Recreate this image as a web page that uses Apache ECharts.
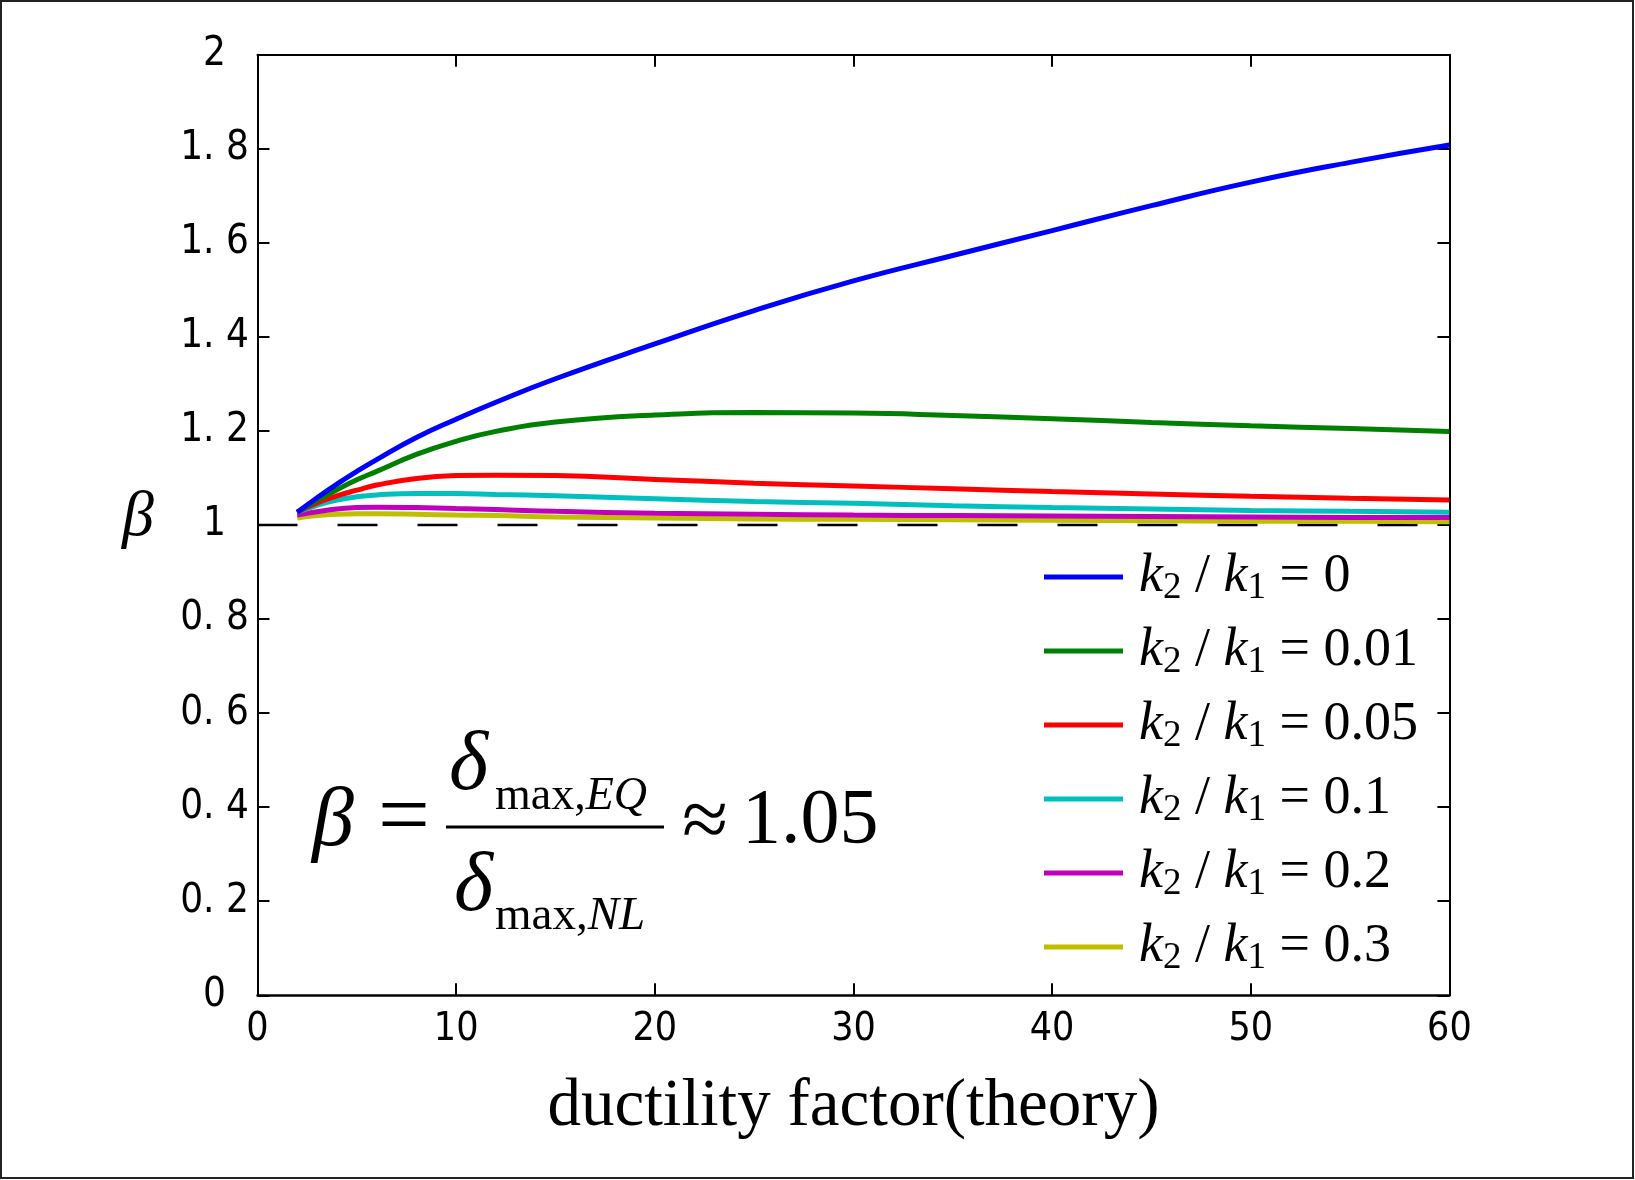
<!DOCTYPE html>
<html>
<head>
<meta charset="utf-8">
<script src="https://cdn.jsdelivr.net/npm/echarts@6/dist/echarts.min.js"></script>
<style>
  html, body { margin: 0; padding: 0; background: #fff; }
  #main { width: 1635px; height: 1180px; }
</style>
</head>
<body>
<div id="main"></div>
<script>
// ductility factor (theory)
var ductility = [2, 3, 4, 5, 6, 8, 10, 12, 15, 20, 25, 30, 35, 40, 45, 50, 55, 60];

// beta for each k2/k1
var ratioLabels = ['0', '0.01', '0.05', '0.1', '0.2', '0.3'];
var beta0    = [1.027, 1.058, 1.087, 1.114, 1.139, 1.186, 1.225, 1.261, 1.311, 1.385, 1.456, 1.519, 1.573, 1.626, 1.679, 1.729, 1.771, 1.808];
var beta001  = [1.027, 1.052, 1.075, 1.096, 1.114, 1.150, 1.178, 1.199, 1.219, 1.234, 1.239, 1.238, 1.233, 1.226, 1.218, 1.211, 1.205, 1.199];
var beta005  = [1.027, 1.047, 1.062, 1.074, 1.085, 1.099, 1.105, 1.106, 1.105, 1.097, 1.089, 1.083, 1.077, 1.071, 1.066, 1.061, 1.057, 1.053];
var beta01   = [1.027, 1.042, 1.053, 1.060, 1.064, 1.067, 1.067, 1.065, 1.062, 1.056, 1.050, 1.046, 1.041, 1.037, 1.034, 1.031, 1.029, 1.027];
var beta02   = [1.021, 1.028, 1.034, 1.037, 1.038, 1.037, 1.035, 1.033, 1.029, 1.025, 1.023, 1.021, 1.020, 1.019, 1.018, 1.017, 1.016, 1.016];
var beta03   = [1.015, 1.020, 1.023, 1.024, 1.024, 1.023, 1.021, 1.020, 1.017, 1.015, 1.013, 1.012, 1.011, 1.010, 1.009, 1.008, 1.008, 1.007];
var betaSets = [beta0, beta001, beta005, beta01, beta02, beta03];
var colors = ['#0000ff', '#008000', '#ff0000', '#00bfbf', '#bf00bf', '#bfbf00'];

var xTicks = [0, 60, 10];   // min, max, interval
var yTicks = [0, 2, 0.2];

var tickFont = '"Liberation Sans Narrow", "DejaVu Sans Condensed", sans-serif';
var serif = '"Liberation Serif", "DejaVu Serif", serif';

var myChart = echarts.init(document.getElementById('main'));

var series = [{
    name: 'ref',
    type: 'line',
    data: [[xTicks[0], 1], [xTicks[1], 1]],
    showSymbol: false,
    silent: true,
    z: 1,
    lineStyle: { color: '#000', width: 2.5, type: [40, 40] }
}];
betaSets.forEach(function (arr, i) {
    series.push({
        name: ratioLabels[i],
        type: 'line',
        smooth: 0.5,
        showSymbol: false,
        z: 2 + (6 - i),
        data: ductility.map(function (x, j) { return [x, arr[j]]; }),
        lineStyle: { color: colors[i], width: 5 },
        itemStyle: { color: colors[i] }
    });
});

function sideAxis(pos, t) {
    return {
        type: 'value', position: pos, min: t[0], max: t[1], interval: t[2],
        axisLine: { show: true, onZero: false, lineStyle: { color: '#000', width: 2 } },
        axisTick: { show: true, inside: true, length: 12, lineStyle: { color: '#000', width: 2 } },
        axisLabel: { show: false },
        splitLine: { show: false }
    };
}

var option = {
    backgroundColor: '#fff',
    animation: false,
    grid: { left: 257.5, right: 185.6, top: 54.7, bottom: 184.7 },
    xAxis: [{
        type: 'value', position: 'bottom', min: xTicks[0], max: xTicks[1], interval: xTicks[2],
        name: 'ductility factor(theory)',
        nameLocation: 'middle',
        nameGap: 79,
        nameTextStyle: { fontFamily: serif, fontSize: 67, color: '#000' },
        axisLine: { show: true, onZero: false, lineStyle: { color: '#000', width: 2.5 } },
        axisTick: { show: true, inside: true, length: 12, lineStyle: { color: '#000', width: 2 } },
        axisLabel: { fontFamily: tickFont, fontSize: 39, color: '#000', margin: 15 },
        splitLine: { show: false }
    }, sideAxis('top', xTicks)],
    yAxis: [{
        type: 'value', position: 'left', min: yTicks[0], max: yTicks[1], interval: yTicks[2],
        axisLine: { show: true, onZero: false, lineStyle: { color: '#000', width: 2 } },
        axisTick: { show: true, inside: true, length: 12, lineStyle: { color: '#000', width: 2 } },
        axisLabel: {
            fontFamily: tickFont, fontSize: 40, color: '#000', margin: 43, align: 'center',
            formatter: function (v) {
                var s = v.toFixed(1);
                if (s.slice(-2) === '.0') return s.slice(0, -2);
                return s.replace('.', '. ');
            }
        },
        splitLine: { show: false }
    }, sideAxis('right', yTicks)],
    legend: {
        data: ratioLabels,
        orient: 'vertical',
        left: 1039,
        top: 545,
        itemWidth: 79,
        itemHeight: 5,
        itemGap: 17,
        icon: 'rect',
        selectedMode: false,
        formatter: function (name) {
            return '{k|k}{s|2}{t| / }{k2|k}{s|1}{t| = ' + name + '}';
        },
        textStyle: {
            color: '#000',
            rich: {
                k: { fontFamily: serif, fontStyle: 'italic', fontSize: 54, lineHeight: 60, padding: [0, 0, 0, 11], color: '#000' },
                k2: { fontFamily: serif, fontStyle: 'italic', fontSize: 54, lineHeight: 60, color: '#000' },
                s: { fontFamily: serif, fontSize: 37, lineHeight: 10, verticalAlign: 'bottom', color: '#000' },
                t: { fontFamily: serif, fontSize: 54, lineHeight: 60, color: '#000' }
            }
        }
    },
    graphic: [
        // picture frame
        { type: 'rect', shape: { x: 1, y: 1, width: 1632, height: 1177 }, style: { fill: 'none', stroke: '#222', lineWidth: 2 }, silent: true },
        // y axis symbol
        { type: 'text', left: 122, top: 486, style: { text: 'β', font: 'italic 64px ' + serif, fill: '#000' } },
        // formula
        { type: 'text', x: 312, y: 823, style: { text: 'β', font: 'italic 84px ' + serif, fill: '#000', verticalAlign: 'middle' } },
        { type: 'text', x: 378, y: 821, style: { text: '=', font: '92px ' + serif, fill: '#000', verticalAlign: 'middle' } },
        { type: 'text', x: 449, y: 767, style: { text: 'δ', font: 'italic 84px ' + serif, fill: '#000', verticalAlign: 'middle' } },
        { type: 'text', x: 495, y: 797, style: { text: '{a|max,}{b|EQ}', verticalAlign: 'middle', rich: { a: { font: '46px ' + serif, fill: '#000' }, b: { font: 'italic 46px ' + serif, fill: '#000' } } } },
        { type: 'line', shape: { x1: 446, y1: 827, x2: 664, y2: 827 }, style: { stroke: '#000', lineWidth: 3 } },
        { type: 'text', x: 454, y: 888, style: { text: 'δ', font: 'italic 84px ' + serif, fill: '#000', verticalAlign: 'middle' } },
        { type: 'text', x: 495, y: 917, style: { text: '{a|max,}{b|NL}', verticalAlign: 'middle', rich: { a: { font: '47px ' + serif, fill: '#000' }, b: { font: 'italic 47px ' + serif, fill: '#000' } } } },
        { type: 'text', x: 682, y: 825, style: { text: '≈', font: '84px ' + serif, fill: '#000', verticalAlign: 'middle' } },
        { type: 'text', x: 742, y: 822, style: { text: '1.05', font: '78px ' + serif, fill: '#000', verticalAlign: 'middle' } }
    ],
    series: series
};

myChart.setOption(option);
</script>
</body>
</html>
